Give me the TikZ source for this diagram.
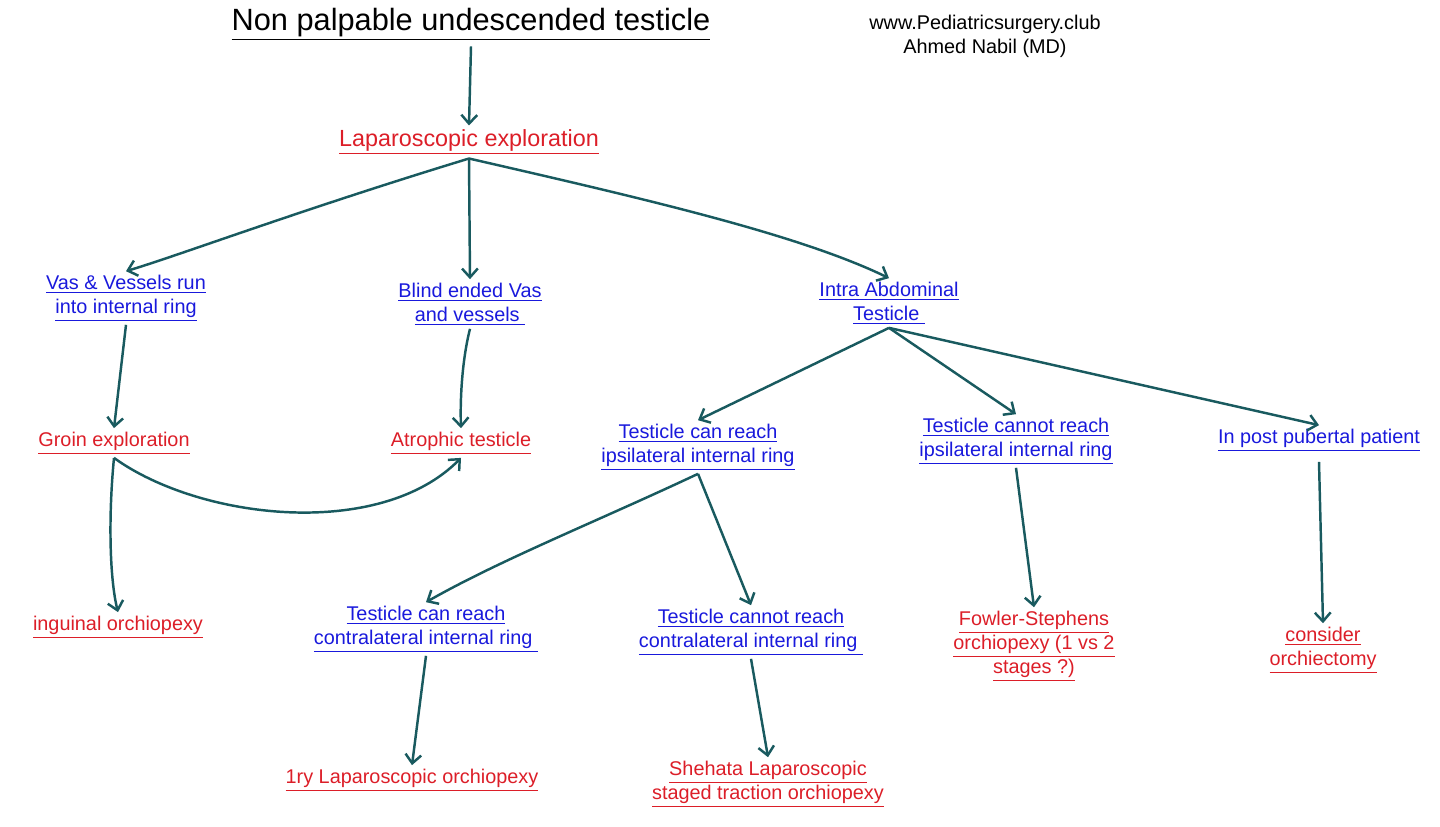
\documentclass[tikz,border=0pt]{standalone}
\usepackage{fontspec}
\setmainfont{Liberation Sans}
\usetikzlibrary{arrows.meta}
\definecolor{redtxt}{RGB}{220,30,40}
\definecolor{bluetxt}{RGB}{25,25,220}
\definecolor{arrowc}{RGB}{25,90,95}
\tikzset{
  redbox/.style={text=redtxt, align=center, font=\fontsize{11.3}{13.6}\selectfont, inner sep=2pt},
  bluebox/.style={text=bluetxt, align=center, font=\fontsize{11.3}{13.6}\selectfont, inner sep=2pt},
  flow/.style={draw=arrowc, line width=1.4pt, -{Straight Barb[length=5pt,width=9pt]}}
}
\newcommand{\ul}[1]{\underline{#1}}
\begin{document}
\begin{tikzpicture}[x=0.02cm, y=-0.02cm]
  \useasboundingbox (0,0) rectangle (1440,826);

  \node[font=\fontsize{17.5}{20}\selectfont] (title) at (471,24) {\ul{Non palpable undescended testicle}};
  \node[align=center, font=\fontsize{11.3}{13.6}\selectfont] (web) at (985,36) {www.Pediatricsurgery.club\\Ahmed Nabil (MD)};

  \node[redbox, font=\fontsize{13.3}{16}\selectfont] (lap) at (469,142) {\ul{Laparoscopic exploration}};
  \node[bluebox] (vas) at (126,298) {\ul{Vas \& Vessels run}\\\ul{into internal ring}};
  \node[bluebox] (blind) at (470,304) {\ul{Blind ended Vas}\\\ul{and vessels\ }};
  \node[bluebox] (intra) at (889,303) {\ul{Intra Abdominal}\\\ul{Testicle\ }};

  \node[redbox] (groin) at (114,443) {\ul{Groin exploration}};
  \node[redbox] (atro) at (461,443) {\ul{Atrophic testicle}};
  \node[bluebox] (can) at (698,447) {\ul{Testicle can reach}\\\ul{ipsilateral internal ring}};
  \node[bluebox] (cannot) at (1016,441) {\ul{Testicle cannot reach}\\\ul{ipsilateral internal ring}};
  \node[bluebox] (post) at (1319,440) {\ul{In post pubertal patient}};

  \node[redbox] (ing) at (118,627) {\ul{inguinal orchiopexy}};
  \node[bluebox] (canc) at (426,629) {\ul{Testicle can reach}\\\ul{contralateral internal ring\ }};
  \node[bluebox] (cannotc) at (751,632) {\ul{Testicle cannot reach}\\\ul{contralateral internal ring\ }};
  \node[redbox] (fowler) at (1034,646) {\ul{Fowler-Stephens}\\\ul{orchiopexy (1 vs 2}\\\ul{stages ?)}};
  \node[redbox] (consider) at (1323,650) {\ul{consider}\\\ul{orchiectomy}};

  \node[redbox] (first) at (412,780) {\ul{1ry Laparoscopic orchiopexy}};
  \node[redbox] (shehata) at (768,784) {\ul{Shehata Laparoscopic}\\\ul{staged traction orchiopexy}};

  % connectors
  \draw[flow] (title.south) -- (lap.north);
  \draw[flow] (lap.south) .. controls (300,210) and (180,255) .. (vas.north);
  \draw[flow] (lap.south) -- (blind.north);
  \draw[flow] (lap.south) .. controls (650,200) and (800,235) .. (intra.north);
  \draw[flow] (vas.south) -- (groin.north);
  \draw[flow] (blind.south) .. controls (462,360) and (460,400) .. (atro.north);
  \draw[flow] (groin.south) .. controls (108,520) and (110,580) .. (ing.north);
  \draw[flow] (groin.south) .. controls (200,520) and (380,540) .. (atro.south);
  \draw[flow] (intra.south) -- (can.north);
  \draw[flow] (intra.south) -- (cannot.north);
  \draw[flow] (intra.south) -- (post.north);
  \draw[flow] (can.south) .. controls (600,520) and (500,560) .. (canc.north);
  \draw[flow] (can.south) -- (cannotc.north);
  \draw[flow] (cannot.south) -- (fowler.north);
  \draw[flow] ([yshift=-4pt]post.south) -- (consider.north);
  \draw[flow] (canc.south) -- (first.north);
  \draw[flow] (cannotc.south) -- (shehata.north);
\end{tikzpicture}
\end{document}
